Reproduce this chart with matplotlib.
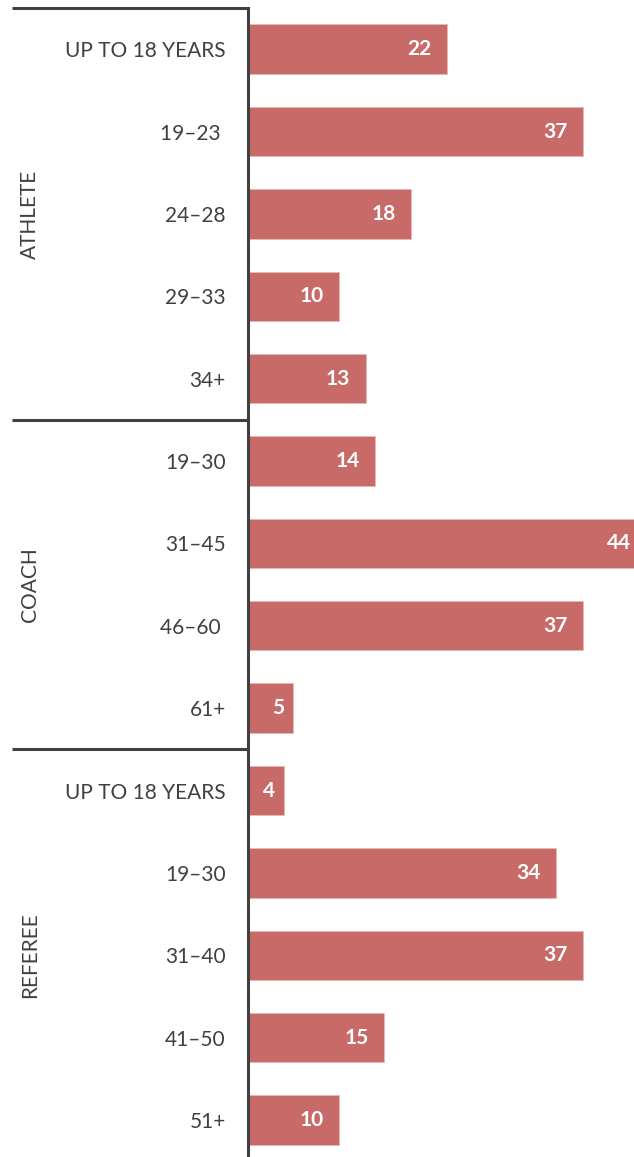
import matplotlib.pyplot as plt
import numpy as np

plt.rcParams['font.family'] = ['Lato', 'DejaVu Sans']

age_groups = ["UP TO 18 YEARS", "19–23 ", "24–28", "29–33", "34+",
              "19–30", "31–45", "46–60 ", "61+",
              "UP TO 18 YEARS", "19–30", "31–40", "41–50", "51+"]
values = [22, 37, 18, 10, 13, 14, 44, 37, 5, 4, 34, 37, 15, 10]
roles = ["ATHLETE", "COACH", "REFEREE"]
role_sizes = [5, 4, 5]

bar_color = "#C86A67"
dark = "#404040"

fig = plt.figure(figsize=(6.34, 11.57), dpi=100)
W, H = 634, 1157
x0 = 248
px_per_unit = 9.05
ax = fig.add_axes([x0 / W, 0, (W - x0) / W, (H - 8) / H])

y = np.arange(len(values))
ax.barh(y, values, height=0.6, color=bar_color, edgecolor="#E8B9B7", linewidth=0.6)
# the longest bar runs past the right edge (clipped like the original)
ax.set_xlim(0, (W - x0) / px_per_unit)
ax.set_ylim(13 + (H - 1120) / 82.4, -0.5)

for yi, v in zip(y, values):
    s = str(v)
    pad = -11 if len(s) > 1 else -6.5
    ax.annotate(s, (v, yi), xytext=(pad, 0), textcoords="offset points",
                ha="right", va="center", color="white", fontsize=15,
                fontweight="bold", annotation_clip=False)

ax.set_yticks(y)
ax.set_yticklabels(age_groups, fontsize=15, color=dark)
ax.tick_params(axis="y", length=0, pad=16)
ax.set_xticks([])
for side in ["top", "right", "bottom"]:
    ax.spines[side].set_visible(False)
ax.spines["left"].set_color(dark)
ax.spines["left"].set_linewidth(2.2)

# group separators and role labels
trans = ax.get_yaxis_transform()
x_start = (12 - x0) / (W - x0)
start = 0
for role, n in zip(roles, role_sizes):
    ax.plot([x_start, 0], [start - 0.5, start - 0.5], transform=trans,
            color=dark, lw=2.2, clip_on=False, solid_capstyle="butt")
    mid = start + (n - 1) / 2
    ax.text((30 - x0) / (W - x0), mid, role, transform=trans, rotation=90,
            ha="center", va="center", fontsize=15, color=dark)
    start += n

fig.savefig("out.png", dpi=100)
